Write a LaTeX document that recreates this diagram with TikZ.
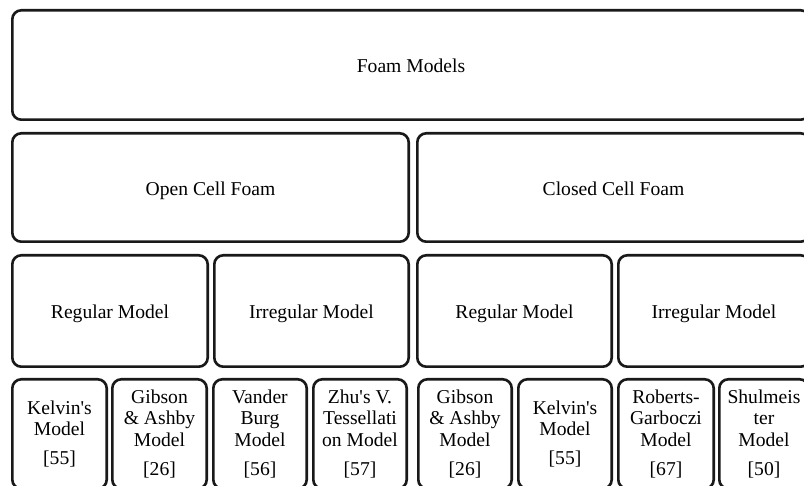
\documentclass[tikz,border=0pt]{standalone}
\usepackage{fontspec}
\setmainfont{Liberation Serif}[Ligatures=TeXOff]
\begin{document}
\begin{tikzpicture}[x=1pt,y=-1pt,
  box/.style={draw=black!90, line width=2.6pt, rounded corners=9pt, inner sep=0pt,
    align=center, text=black, font=\fontsize{19.6}{21.6}\selectfont},
  head/.style={box, text height=18pt, text depth=2pt},
  leaf/.style={box, minimum height=109.4pt}]
\useasboundingbox (0,0) rectangle (804,486);
\clip (0,0) rectangle (804,486);
\fill[white] (0,0) rectangle (804,486);
% level 1
\node[head, minimum width=797.4pt, minimum height=109.4pt] (foam) at (411,65) {Foam Models};
% level 2
\node[head, minimum width=396.4pt, minimum height=108.4pt] (open) at (210.5,187.5) {Open Cell Foam};
\node[head, minimum width=392.4pt, minimum height=108.4pt] (closed) at (613.5,187.5) {Closed Cell Foam};
% level 3
\node[head, minimum width=195.4pt, minimum height=111.4pt] (oreg) at (110,311) {Regular Model};
\node[head, minimum width=194.4pt, minimum height=111.4pt] (oirr) at (311.5,311) {Irregular Model};
\node[head, minimum width=194.4pt, minimum height=111.4pt] (creg) at (514.5,311) {Regular Model};
\node[head, minimum width=191.4pt, minimum height=111.4pt] (cirr) at (714,311) {Irregular Model};
% level 4
\node[leaf, minimum width=94.4pt] (kelvin) at (59.5,434) {Kelvin's\\Model\\[7.5pt][55]};
\node[leaf, minimum width=94.4pt] (gibson) at (159.5,434) {Gibson\\\& Ashby\\Model\\[7.5pt][26]};
\node[leaf, minimum width=93.4pt] (vander) at (260,434) {Vander\\Burg\\Model\\[7.5pt][56]};
\node[leaf, minimum width=93.4pt] (zhu) at (360,434) {Zhu's V.\\Tessellati\\on Model\\[7.5pt][57]};
\node[leaf, minimum width=93.4pt] (gibsonc) at (465,434) {Gibson\\\& Ashby\\Model\\[7.5pt][26]};
\node[leaf, minimum width=93.4pt] (kelvinc) at (565,434) {Kelvin's\\Model\\[7.5pt][55]};
\node[leaf, minimum width=95.4pt] (roberts) at (666,434) {Roberts-\\Garboczi\\Model\\[7.5pt][67]};
\node[leaf, minimum width=89.4pt] (shul) at (764,434) {Shulmeis\\ter\\Model\\[7.5pt][50]};
\end{tikzpicture}
\end{document}
